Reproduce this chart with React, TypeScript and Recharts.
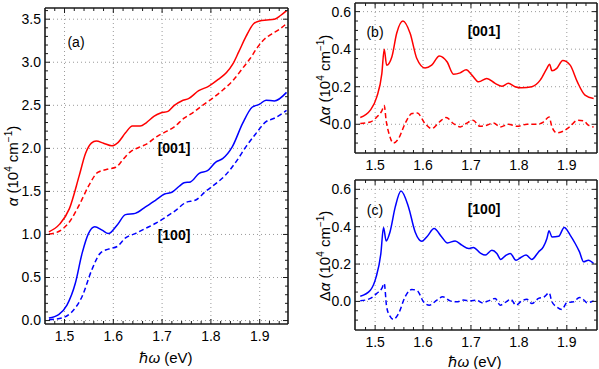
import React from 'react';
import { LineChart, Line, XAxis, YAxis, ReferenceLine } from 'recharts';

type Pt = [number, number];

// (a) absorption alpha, [001] red, [100] blue
const a001Solid: Pt[] = [
  [1.468, 1.03], [1.49, 1.12], [1.51, 1.3], [1.53, 1.68], [1.543, 1.94], [1.555, 2.06], [1.565, 2.085],
  [1.58, 2.06], [1.597, 2.03], [1.61, 2.07], [1.625, 2.18], [1.639, 2.26], [1.655, 2.26], [1.668, 2.3],
  [1.683, 2.37], [1.697, 2.41], [1.712, 2.43], [1.725, 2.5], [1.74, 2.55], [1.755, 2.58], [1.775, 2.67],
  [1.795, 2.72], [1.815, 2.8], [1.832, 2.88], [1.845, 2.98], [1.857, 3.12], [1.872, 3.3], [1.888, 3.45],
  [1.9, 3.48], [1.915, 3.49], [1.93, 3.5], [1.942, 3.54], [1.955, 3.6],
];
const a001Dashed: Pt[] = [
  [1.468, 1.005], [1.49, 1.04], [1.508, 1.13], [1.53, 1.34], [1.55, 1.57], [1.568, 1.72], [1.59, 1.76],
  [1.605, 1.78], [1.62, 1.87], [1.635, 1.96], [1.652, 2.01], [1.668, 2.05], [1.69, 2.14], [1.71, 2.2],
  [1.725, 2.25], [1.745, 2.35], [1.762, 2.41], [1.783, 2.5], [1.803, 2.58], [1.825, 2.68], [1.847, 2.8],
  [1.865, 2.93], [1.88, 3.04], [1.895, 3.17], [1.91, 3.27], [1.925, 3.33], [1.94, 3.38], [1.955, 3.45],
];
const a100Solid: Pt[] = [
  [1.468, 0.03], [1.488, 0.07], [1.505, 0.18], [1.522, 0.43], [1.536, 0.78], [1.549, 1.01], [1.562, 1.09],
  [1.577, 1.05], [1.59, 1.01], [1.608, 1.11], [1.625, 1.23], [1.645, 1.245], [1.666, 1.32], [1.687, 1.4],
  [1.705, 1.47], [1.72, 1.49], [1.735, 1.56], [1.745, 1.6], [1.758, 1.61], [1.776, 1.71], [1.793, 1.74],
  [1.81, 1.84], [1.824, 1.88], [1.844, 2.02], [1.865, 2.29], [1.885, 2.48], [1.899, 2.51], [1.913, 2.56],
  [1.93, 2.55], [1.955, 2.65],
];
const a100Dashed: Pt[] = [
  [1.468, 0.01], [1.495, 0.03], [1.515, 0.1], [1.536, 0.28], [1.556, 0.59], [1.573, 0.78], [1.59, 0.83],
  [1.608, 0.86], [1.625, 0.96], [1.645, 1.01], [1.666, 1.07], [1.687, 1.13], [1.707, 1.2], [1.728, 1.28],
  [1.748, 1.37], [1.769, 1.4], [1.789, 1.5], [1.81, 1.59], [1.83, 1.69], [1.851, 1.84], [1.872, 2.02],
  [1.892, 2.17], [1.913, 2.31], [1.93, 2.35], [1.955, 2.44],
];

// (b) delta alpha [001]
const b001Solid: Pt[] = [
  [1.469, 0.036], [1.49, 0.075], [1.5035, 0.146], [1.514, 0.27], [1.519, 0.4], [1.524, 0.315], [1.535, 0.36],
  [1.545, 0.485], [1.558, 0.55], [1.573, 0.485], [1.587, 0.35], [1.604, 0.3], [1.618, 0.315], [1.634, 0.364],
  [1.65, 0.333], [1.6635, 0.267], [1.6775, 0.274], [1.69, 0.29], [1.702, 0.262], [1.716, 0.226], [1.733, 0.244],
  [1.7505, 0.218], [1.7645, 0.203], [1.778, 0.218], [1.792, 0.2], [1.806, 0.194], [1.827, 0.2], [1.8445, 0.235],
  [1.8585, 0.298], [1.864, 0.32], [1.869, 0.285], [1.879, 0.298], [1.8915, 0.34], [1.907, 0.315], [1.922, 0.226],
  [1.938, 0.155], [1.956, 0.137],
];
const b001Dashed: Pt[] = [
  [1.469, 0.004], [1.49, 0.012], [1.5035, 0.039], [1.514, 0.071], [1.519, 0.1], [1.523, 0.02], [1.53, -0.059],
  [1.538, -0.1], [1.5487, -0.077], [1.5626, 0.004], [1.5766, 0.057], [1.588, 0.06], [1.604, 0.004],
  [1.618, -0.023], [1.634, 0.012], [1.648, 0.036], [1.6635, 0.004], [1.6775, -0.014], [1.69, 0.004],
  [1.704, 0.021], [1.719, -0.011], [1.733, -0.005], [1.747, 0.007], [1.761, -0.014], [1.778, 0.0],
  [1.796, -0.011], [1.817, 0.0], [1.8376, 0.0], [1.851, 0.012], [1.863, 0.039], [1.869, -0.014],
  [1.879, -0.046], [1.893, -0.036], [1.907, -0.011], [1.922, 0.021], [1.935, 0.018], [1.945, -0.005],
  [1.956, -0.014],
];

// (c) delta alpha [100]
const c100Solid: Pt[] = [
  [1.469, 0.028], [1.49, 0.06], [1.502, 0.13], [1.512, 0.257], [1.5175, 0.396], [1.523, 0.324], [1.531, 0.372],
  [1.542, 0.506], [1.554, 0.591], [1.5696, 0.506], [1.5835, 0.372], [1.5975, 0.322], [1.609, 0.349],
  [1.623, 0.39], [1.639, 0.345], [1.651, 0.313], [1.667, 0.324], [1.681, 0.301], [1.695, 0.283], [1.705, 0.289],
  [1.719, 0.26], [1.7296, 0.248], [1.7436, 0.274], [1.754, 0.257], [1.762, 0.225], [1.7735, 0.248],
  [1.782, 0.257], [1.794, 0.22], [1.804, 0.235], [1.815, 0.248], [1.827, 0.225], [1.841, 0.265],
  [1.851, 0.292], [1.8585, 0.337], [1.863, 0.378], [1.869, 0.345], [1.883, 0.349], [1.8946, 0.396],
  [1.907, 0.355], [1.9175, 0.31], [1.9265, 0.265], [1.935, 0.212], [1.945, 0.221], [1.956, 0.203],
];
const c100Dashed: Pt[] = [
  [1.469, 0.003], [1.49, 0.016], [1.5035, 0.043], [1.514, 0.07], [1.519, 0.096], [1.524, -0.029], [1.531, -0.079],
  [1.538, -0.096], [1.549, -0.064], [1.5626, 0.025], [1.5766, 0.064], [1.588, 0.057], [1.601, -0.002],
  [1.613, -0.02], [1.629, 0.007], [1.641, 0.025], [1.6566, 0.003], [1.6706, -0.002], [1.684, 0.007],
  [1.698, 0.003], [1.712, 0.007], [1.7228, -0.007], [1.7365, 0.003], [1.7505, 0.016], [1.761, -0.02],
  [1.7735, -0.002], [1.783, 0.011], [1.794, -0.02], [1.806, 0.003], [1.8167, 0.011], [1.827, -0.011],
  [1.841, 0.016], [1.853, 0.025], [1.863, 0.046], [1.869, -0.002], [1.879, -0.029], [1.8897, -0.043],
  [1.9, -0.007], [1.914, -0.002], [1.9265, 0.021], [1.935, 0.009], [1.942, -0.007], [1.956, 0.003],
];

const xMajor = [1.5, 1.6, 1.7, 1.8, 1.9];
const aYMajor = [0, 0.5, 1, 1.5, 2, 2.5, 3, 3.5];
const dYMajor = [0, 0.2, 0.4, 0.6];

const range = (a: number, b: number, s: number) => {
  const out: number[] = [];
  for (let v = a; v <= b + 1e-9; v += s) out.push(Math.round(v * 1000) / 1000);
  return out;
};
const xTicks = range(1.48, 1.94, 0.02);
const aYTicks = range(0.1, 3.6, 0.1).concat([0]);
const dYTicks = range(-0.1, 0.6, 0.05);

const RED = '#ff0000';
const BLUE = '#0000ff';
const FRAME = '#1a1a1a';
const FONT = '"Liberation Sans", Arial, sans-serif';

const toRows = (pts: Pt[]) => pts.map(([x, y]) => ({ x, y }));
const isMajor = (v: number, majors: number[]) => majors.some((m) => Math.abs(m - v) < 1e-6);

// inward ticks, labels only on bottom/left majors
const tickFn = (side: string, majors: number[], digits = 1) => (p: any) => {
  const { x, y, payload } = p;
  const major = isMajor(payload.value, majors);
  const len = major ? 5 : 3;
  let line;
  if (side === 'bottom') line = <line x1={x} x2={x} y1={y} y2={y - len} stroke={FRAME} />;
  else if (side === 'top') line = <line x1={x} x2={x} y1={y} y2={y + len} stroke={FRAME} />;
  else if (side === 'left') line = <line x1={x} x2={x + len} y1={y} y2={y} stroke={FRAME} />;
  else line = <line x1={x} x2={x - len} y1={y} y2={y} stroke={FRAME} />;
  let label = null;
  if (major && side === 'bottom')
    label = (
      <text x={x} y={y + 12} dy="0.35em" textAnchor="middle" fontSize={14} fontFamily={FONT} fill="#000">
        {payload.value.toFixed(digits)}
      </text>
    );
  if (major && side === 'left')
    label = (
      <text x={x - 4} y={y} dy="0.35em" textAnchor="end" fontSize={14} fontFamily={FONT} fill="#000">
        {payload.value.toFixed(digits)}
      </text>
    );
  return (
    <g>
      {line}
      {label}
    </g>
  );
};

type Series = { pts: Pt[]; color: string; dashed: boolean };

const Panel = ({
  width, height, margin, xDomain, yDomain, yMajor, yTicks, series,
}: {
  width: number; height: number; margin: any; xDomain: number[]; yDomain: number[];
  yMajor: number[]; yTicks: number[]; series: Series[];
}) => {
  const axisLine = { stroke: FRAME, strokeWidth: 1.6 };
  return (
    <LineChart width={width} height={height} margin={margin}>
      <XAxis xAxisId="b" dataKey="x" type="number" domain={xDomain} allowDataOverflow ticks={xTicks}
        interval={0} height={1} tickSize={0} tickMargin={0} tickLine={false} axisLine={axisLine}
        tick={tickFn('bottom', xMajor)} />
      <XAxis xAxisId="t" orientation="top" dataKey="x" type="number" domain={xDomain} allowDataOverflow
        ticks={xTicks} interval={0} height={1} tickSize={0} tickMargin={0} tickLine={false} axisLine={axisLine}
        tick={tickFn('top', xMajor)} />
      <YAxis yAxisId="l" type="number" domain={yDomain} allowDataOverflow ticks={yTicks} interval={0}
        width={1} tickSize={0} tickMargin={0} tickLine={false} axisLine={axisLine}
        tick={tickFn('left', yMajor)} />
      <YAxis yAxisId="r" orientation="right" type="number" domain={yDomain} allowDataOverflow ticks={yTicks}
        interval={0} width={1} tickSize={0} tickMargin={0} tickLine={false} axisLine={axisLine}
        tick={tickFn('right', yMajor)} />
      {xMajor.map((v) => (
        <ReferenceLine key={'gx' + v} x={v} xAxisId="b" yAxisId="l" stroke="#9a9a9a" strokeDasharray="1 3" />
      ))}
      {yMajor.map((v) => (
        <ReferenceLine key={'gy' + v} y={v} xAxisId="b" yAxisId="l" stroke="#9a9a9a" strokeDasharray="1 3" />
      ))}
      {series.map((s, i) => (
        <Line key={i} xAxisId="b" yAxisId="l" data={toRows(s.pts)} dataKey="y" type="monotone"
          stroke={s.color} strokeWidth={1.5} strokeDasharray={s.dashed ? '5 3' : undefined}
          dot={false} activeDot={false} isAnimationActive={false} />
      ))}
    </LineChart>
  );
};

const txt = (left: number, top: number, content: React.ReactNode, extra: React.CSSProperties = {}) => (
  <div style={{
    position: 'absolute', left, top, transform: 'translate(-50%, -50%)', whiteSpace: 'nowrap',
    fontFamily: FONT, fontSize: 14, color: '#000', lineHeight: 1, ...extra,
  }}>{content}</div>
);

const unit = (
  <>(10<sup style={{ fontSize: 10 }}>4</sup> cm<sup style={{ fontSize: 10 }}>−1</sup>)</>
);
const xLabel = <><span>ℏ</span><i>ω</i> (eV)</>;
const rot = 'translate(-50%, -50%) rotate(-90deg)';

export default function App() {
  return (
    <div style={{ position: 'absolute', left: 0, top: 0, width: 599, height: 369, background: '#fff' }}>
      <div style={{ position: 'absolute', left: 0, top: 0 }}>
        <Panel width={300} height={369} margin={{ top: 7, left: 44, right: 11, bottom: 44 }}
          xDomain={[1.46, 1.958]} yDomain={[-0.04, 3.63]} yMajor={aYMajor} yTicks={aYTicks}
          series={[
            { pts: a001Solid, color: RED, dashed: false },
            { pts: a001Dashed, color: RED, dashed: true },
            { pts: a100Solid, color: BLUE, dashed: false },
            { pts: a100Dashed, color: BLUE, dashed: true },
          ]} />
      </div>
      <div style={{ position: 'absolute', left: 300, top: 0 }}>
        <Panel width={299} height={178} margin={{ top: 2, left: 54, right: 1, bottom: 24 }}
          xDomain={[1.458, 1.963]} yDomain={[-0.153, 0.646]} yMajor={dYMajor} yTicks={dYTicks}
          series={[
            { pts: b001Solid, color: RED, dashed: false },
            { pts: b001Dashed, color: RED, dashed: true },
          ]} />
      </div>
      <div style={{ position: 'absolute', left: 300, top: 170 }}>
        <Panel width={299} height={199} margin={{ top: 9, left: 54, right: 1, bottom: 38 }}
          xDomain={[1.458, 1.963]} yDomain={[-0.153, 0.65]} yMajor={dYMajor} yTicks={dYTicks}
          series={[
            { pts: c100Solid, color: BLUE, dashed: false },
            { pts: c100Dashed, color: BLUE, dashed: true },
          ]} />
      </div>

      {txt(76, 42, '(a)')}
      {txt(174, 148, '[001]', { fontWeight: 'bold' })}
      {txt(174, 235, '[100]', { fontWeight: 'bold' })}
      {txt(375, 32, '(b)')}
      {txt(484, 31, '[001]', { fontWeight: 'bold' })}
      {txt(375, 210, '(c)')}
      {txt(484, 209, '[100]', { fontWeight: 'bold' })}

      {txt(12, 166, <><i>α</i> {unit}</>, { transform: rot, fontSize: 15 })}
      {txt(324, 80, <>Δ<i>α</i> {unit}</>, { transform: rot, fontSize: 15 })}
      {txt(324, 256, <>Δ<i>α</i> {unit}</>, { transform: rot, fontSize: 15 })}

      {txt(166, 357, xLabel, { fontSize: 15 })}
      {txt(475, 361, xLabel, { fontSize: 15 })}
    </div>
  );
}
